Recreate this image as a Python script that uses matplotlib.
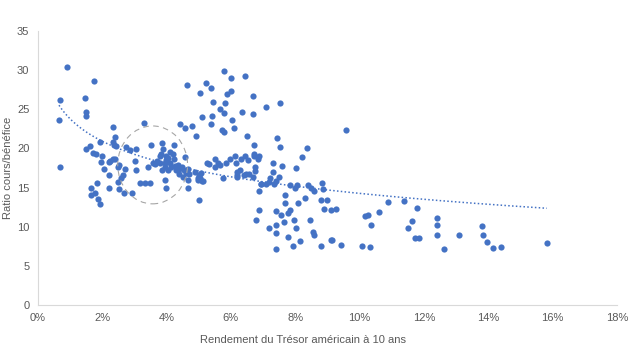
import numpy as np
import matplotlib
matplotlib.use("Agg")
import matplotlib.pyplot as plt
from matplotlib.patches import Ellipse
from matplotlib.ticker import FuncFormatter

plt.rcParams['font.family'] = ['Liberation Sans', 'DejaVu Sans']

blue = '#4472c4'
grey = '#595959'

# rendement du Tresor a 10 ans (%) et ratio cours/benefice
rendement = [
    0.66, 0.68, 0.68, 0.92,
    1.47, 1.51, 1.49, 1.75, 1.51, 1.61, 1.72, 1.80, 1.93, 2.01, 1.95, 2.05,
    1.64, 1.67, 1.77, 1.85, 1.87, 1.93,
    2.34, 2.40, 2.34, 2.36, 2.44, 2.21, 2.21, 2.24, 2.34, 2.40, 2.20, 2.52,
    2.50, 2.70, 2.65, 2.60, 2.49, 2.52, 2.73, 2.86, 3.06, 3.01, 3.05, 2.67, 2.94,
    3.30, 3.17, 3.33, 3.48, 3.53, 3.87, 4.23, 3.89, 3.84, 3.79, 4.20, 4.22, 4.57,
    3.58, 3.43, 3.79, 4.00, 4.10, 3.94, 4.15, 3.87, 4.31, 4.49, 4.67, 4.62, 4.70,
    4.88, 5.08, 4.51, 4.67, 4.98, 5.10, 3.94, 4.00, 4.67, 5.01, 3.63, 3.70, 4.05,
    3.95, 4.25, 4.40, 4.35, 4.05, 3.98, 4.12, 4.40, 4.55,
    4.65, 4.41, 4.59, 4.79, 4.93, 5.04, 5.24, 5.39, 5.44, 5.11, 5.40, 5.37, 5.73, 5.78,
    5.78, 5.99, 6.43, 5.87, 6.02, 5.65, 5.81, 5.78, 6.03, 6.10, 6.69, 6.35, 6.69,
    6.49, 6.73, 7.10, 7.52, 7.43, 7.54, 8.37, 8.22, 7.31, 7.60, 8.03, 7.31, 9.57,
    5.25, 5.32, 5.52, 5.60, 5.65, 5.50, 5.86, 5.96, 6.12, 6.17, 6.33, 6.43, 6.53,
    6.72, 6.72, 6.84, 6.89, 6.74, 6.74, 5.00, 5.05, 5.13, 4.98, 5.75, 6.20, 6.27,
    6.20, 6.40, 6.48, 6.55, 6.70, 6.19, 6.95,
    6.79, 6.89, 6.89, 6.95, 7.09, 7.18, 7.22, 7.33, 7.39, 7.49, 7.20, 7.39, 7.41,
    7.39, 7.39, 7.57, 7.64, 7.67, 7.67, 7.77, 7.85, 7.77, 7.83, 8.00, 7.93, 7.95,
    8.01, 8.06, 8.08, 8.14, 8.29, 8.39, 8.50, 8.47, 8.55, 8.60, 8.60, 8.81, 8.81,
    8.84, 8.85, 8.91, 8.99,
    9.12, 9.27, 9.10, 9.15, 9.43, 10.07, 10.31, 10.16, 10.26, 10.36, 10.60, 10.88,
    11.37, 11.50, 11.64, 11.78, 11.71, 11.84, 12.41, 12.40, 12.41, 12.62, 13.10,
    13.81, 13.83, 13.96, 14.16, 14.41, 15.82,
]
ratio_pe = [
    23.6, 26.2, 17.6, 30.4,
    26.4, 24.7, 24.1, 28.6, 19.9, 20.3, 19.4, 19.3, 20.8, 19.1, 18.3, 17.4,
    14.9, 14.1, 14.3, 15.6, 13.5, 12.9,
    22.8, 21.5, 20.8, 20.5, 20.3, 16.6, 14.9, 18.4, 18.7, 18.6, 18.3, 17.9,
    17.6, 17.4, 16.6, 16.2, 15.7, 14.8, 20.2, 19.8, 19.9, 18.4, 17.3, 14.3, 14.3,
    23.2, 15.6, 15.6, 15.6, 20.4, 20.7, 20.5, 19.9, 19.3, 19.0, 19.3, 18.7, 18.9,
    18.1, 17.6, 18.1, 18.5, 18.1, 17.6, 17.6, 17.2, 17.2, 17.6, 17.4, 16.9, 16.8,
    17.0, 16.9, 16.4, 16.0, 16.0, 15.8, 16.0, 14.9, 14.9, 13.4, 18.0, 18.4, 18.8,
    18.2, 17.8, 17.4, 17.9, 17.3, 19.1, 19.6, 16.8, 17.2,
    28.1, 23.1, 22.6, 22.9, 21.6, 27.1, 28.4, 27.7, 25.9, 24.0, 24.2, 23.1, 22.3, 22.1,
    29.9, 29.0, 29.3, 27.0, 27.3, 25.0, 25.8, 24.5, 23.7, 22.6, 26.7, 24.6, 24.4,
    21.6, 20.5, 25.3, 25.8, 21.3, 20.2, 20.1, 18.9, 18.2, 17.7, 17.5, 17.0, 22.4,
    18.1, 18.0, 18.7, 18.1, 17.9, 17.6, 18.2, 18.6, 19.0, 18.2, 18.6, 19.0, 18.5,
    19.3, 19.0, 18.6, 19.0, 17.6, 17.1, 16.6, 16.2, 15.9, 16.2, 16.2, 17.0, 17.2,
    16.4, 16.6, 16.7, 16.8, 16.3, 16.6, 15.5,
    10.9, 14.6, 12.2, 15.4, 15.4, 15.7, 16.2, 15.4, 15.9, 16.3, 9.8, 9.2, 10.2,
    12.0, 7.2, 11.5, 10.6, 13.0, 14.1, 11.7, 12.2, 8.7, 15.3, 14.9, 7.6, 10.8,
    9.8, 15.3, 13.0, 8.2, 13.7, 15.3, 14.9, 10.8, 9.3, 9.0, 14.6, 7.6, 13.4,
    15.6, 14.8, 12.3, 13.4,
    12.2, 12.3, 8.3, 8.3, 7.7, 7.5, 7.4, 11.4, 11.5, 10.2, 11.9, 13.2,
    13.3, 9.9, 10.7, 12.4, 8.5, 8.5, 11.1, 10.2, 9.0, 7.1, 9.0,
    10.1, 9.0, 8.1, 7.3, 7.4, 7.9,
]

x = np.array(rendement)
y = np.array(ratio_pe)

fig = plt.figure(figsize=(6.4, 3.53), dpi=100)
ax = fig.add_axes([0.059, 0.136, 0.905, 0.776])

ax.scatter(x, y, s=20, color=blue, zorder=3, linewidths=0)

# courbe de tendance logarithmique
b, a = np.polyfit(np.log(x), y, 1)
xt = np.linspace(x.min(), x.max(), 200)
ax.plot(xt, a + b * np.log(xt), color=blue, linestyle=(0, (1, 1.5)), linewidth=1.1, zorder=2)

# cercle en pointilles
ax.add_patch(Ellipse((3.57, 17.9), 2.17, 9.95, fill=False, edgecolor='#a6a6a6',
                     linestyle=(0, (5, 4)), linewidth=0.8, zorder=4))

ax.set_xlim(0, 18)
ax.set_ylim(0, 35)
ax.set_xticks(range(0, 19, 2))
ax.set_yticks(range(0, 36, 5))
ax.xaxis.set_major_formatter(FuncFormatter(lambda v, p: f'{v:.0f}%'))

for s in ['top', 'right']:
    ax.spines[s].set_visible(False)
for s in ['left', 'bottom']:
    ax.spines[s].set_color('#d9d9d9')
    ax.spines[s].set_linewidth(0.8)
ax.tick_params(length=0, labelsize=8, labelcolor=grey, pad=6)

ax.set_xlabel('Rendement du Trésor américain à 10 ans', fontsize=8, color=grey)
ax.xaxis.set_label_coords(0.458, -0.11)
ax.set_ylabel('Ratio cours/bénéfice', fontsize=8, color=grey)
ax.yaxis.set_label_coords(-0.043, 0.5)

fig.savefig('out.png', dpi=100)
